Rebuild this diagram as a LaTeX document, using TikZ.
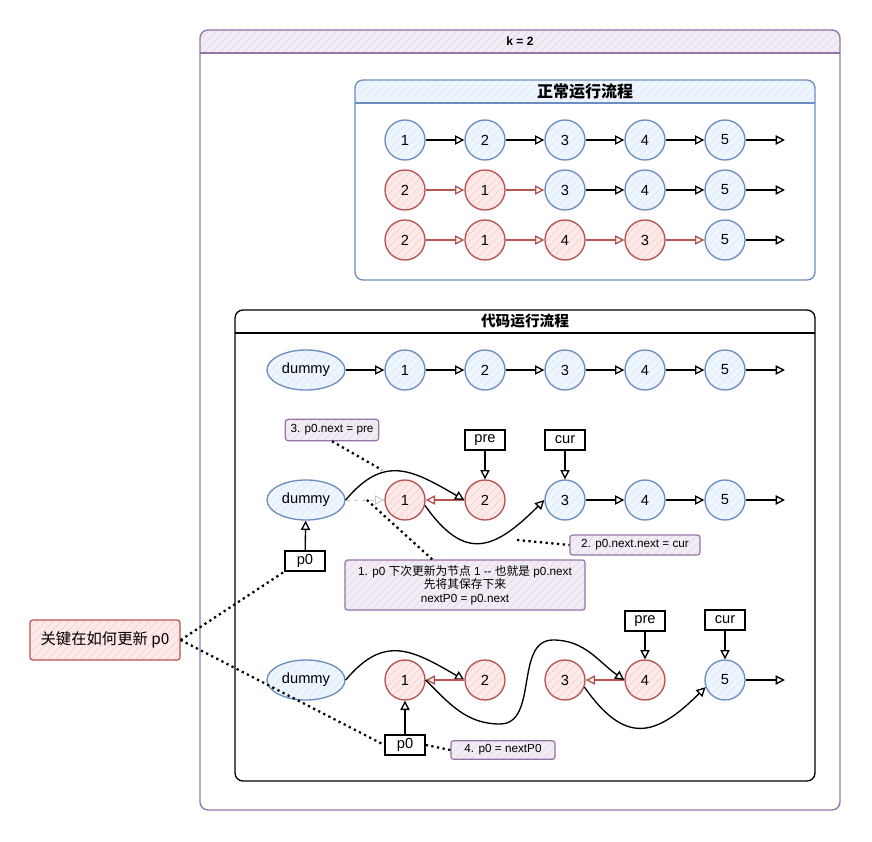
\documentclass[tikz,border=0pt]{standalone}
\usepackage{fontspec}
\setmainfont{Liberation Sans}
\newfontfamily\cjk{Noto Sans CJK SC}
\usetikzlibrary{arrows.meta,patterns.meta,shapes.geometric}

\definecolor{bline}{HTML}{6C8EBF}
\definecolor{bfill}{HTML}{DAE8FC}
\definecolor{rline}{HTML}{B85450}
\definecolor{rfill}{HTML}{F8CECC}
\definecolor{pline}{HTML}{9673A6}
\definecolor{pfill}{HTML}{E1D5E7}

\tikzset{
  hatch/.style={preaction={fill=#1!45!white}, pattern={Lines[angle=45,distance=4pt,line width=0.5pt]}, pattern color=#1},
  circ/.style={circle, line width=1pt, minimum size=30pt, inner sep=0pt, font=\fontsize{11}{12}\selectfont},
  bnode/.style={circ, draw=bline, hatch=bfill},
  rnode/.style={circ, draw=rline, hatch=rfill},
  dnode/.style={ellipse, draw=bline, line width=1pt, hatch=bfill, minimum width=58.5pt, minimum height=30pt, inner sep=0pt, font=\fontsize{11}{12}\selectfont},
  tag/.style={draw, line width=1pt, fill=white, minimum width=30pt, minimum height=15pt, inner sep=1pt, font=\fontsize{11}{12}\selectfont},
  note/.style={draw=pline, line width=0.9pt, rounded corners=2pt, hatch=pfill, inner sep=2pt, font=\fontsize{8.8}{10}\selectfont, align=center},
  arr/.style={-{Triangle[open,length=7pt,width=7pt]}, line width=1pt},
  rarr/.style={arr, draw=rline},
  dots/.style={line width=1.7pt, dash pattern=on 1.7pt off 2.6pt},
}

\begin{document}
\begin{tikzpicture}[x=0.75pt,y=0.75pt]
\useasboundingbox (0,0) rectangle (872,-842);

% outer frame: k = 2
\begin{scope}
\clip (200,-30) rectangle (840,-53);
\path[hatch=pfill, rounded corners=6pt] (200,-30) rectangle (840,-810);
\end{scope}
\draw[pline, line width=1pt, rounded corners=6pt] (200,-30) rectangle (840,-810);
\draw[pline, line width=1pt] (200,-53) -- (840,-53);
\node[font=\bfseries\fontsize{9}{10}\selectfont] (ktitle) at (520,-41.5) {k = 2};

% normal flow frame
\begin{scope}
\clip (355,-80) rectangle (815,-103);
\path[hatch=bfill, rounded corners=6pt] (355,-80) rectangle (815,-280);
\end{scope}
\draw[bline, line width=1pt, rounded corners=6pt] (355,-80) rectangle (815,-280);
\draw[bline, line width=1pt] (355,-103) -- (815,-103);
\node[font=\cjk\bfseries\fontsize{12}{13}\selectfont] (ntitle) at (585,-91.5) {正常运行流程};

% code flow frame
\draw[line width=1pt, rounded corners=6pt] (235,-310) rectangle (815,-781);
\draw[line width=1pt] (235,-333) -- (815,-333);
\node[font=\cjk\bfseries\fontsize{11}{12}\selectfont] (ctitle) at (525,-321.5) {代码运行流程};

% normal flow, row 1
\foreach \i/\x in {1/405,2/485,3/565,4/645,5/725}
  \node[bnode] (n1\i) at (\x,-140) {\i};
\coordinate (e1) at (785,-140);
\draw[arr] (n11) -- (n12);
\draw[arr] (n12) -- (n13);
\draw[arr] (n13) -- (n14);
\draw[arr] (n14) -- (n15);
\draw[arr] (n15) -- (e1);

% normal flow, row 2
\node[rnode] (n21) at (405,-190) {2};
\node[rnode] (n22) at (485,-190) {1};
\node[bnode] (n23) at (565,-190) {3};
\node[bnode] (n24) at (645,-190) {4};
\node[bnode] (n25) at (725,-190) {5};
\coordinate (e2) at (785,-190);
\draw[rarr] (n21) -- (n22);
\draw[rarr] (n22) -- (n23);
\draw[arr] (n23) -- (n24);
\draw[arr] (n24) -- (n25);
\draw[arr] (n25) -- (e2);

% normal flow, row 3
\node[rnode] (n31) at (405,-240) {2};
\node[rnode] (n32) at (485,-240) {1};
\node[rnode] (n33) at (565,-240) {4};
\node[rnode] (n34) at (645,-240) {3};
\node[bnode] (n35) at (725,-240) {5};
\coordinate (e3) at (785,-240);
\draw[rarr] (n31) -- (n32);
\draw[rarr] (n32) -- (n33);
\draw[rarr] (n33) -- (n34);
\draw[rarr] (n34) -- (n35);
\draw[arr] (n35) -- (e3);

% code flow, row A
\node[dnode] (a0) at (306,-370) {dummy};
\foreach \i/\x in {1/405,2/485,3/565,4/645,5/725}
  \node[bnode] (a\i) at (\x,-370) {\i};
\coordinate (ea) at (785,-370);
\draw[arr] (a0) -- (a1);
\draw[arr] (a1) -- (a2);
\draw[arr] (a2) -- (a3);
\draw[arr] (a3) -- (a4);
\draw[arr] (a4) -- (a5);
\draw[arr] (a5) -- (ea);

% code flow, row B
\node[dnode] (b0) at (306,-500) {dummy};
\node[rnode] (b1) at (405,-500) {1};
\node[rnode] (b2) at (485,-500) {2};
\node[bnode] (b3) at (565,-500) {3};
\node[bnode] (b4) at (645,-500) {4};
\node[bnode] (b5) at (725,-500) {5};
\coordinate (eb) at (785,-500);
\node[tag] (preb) at (485,-440) {pre};
\node[tag] (curb) at (565,-440) {cur};
\node[tag] (p0b) at (305,-561) {p0};
\draw[arr] (preb) -- (b2);
\draw[arr] (curb) -- (b3);
\draw[arr] (p0b) -- (b0);
\draw[arr, gray!45, line width=0.7pt, dashed] (b0) -- (b1);
\draw[rarr] (b2) -- (b1);
\draw[arr] (b0.east) to[out=50,in=150,looseness=1.3] (b2.west);
\draw[arr] (b1.-15) to[out=-55,in=-135,looseness=1.5] (b3.west);
\draw[arr] (b3) -- (b4);
\draw[arr] (b4) -- (b5);
\draw[arr] (b5) -- (eb);

% code flow, row C
\node[dnode] (c0) at (306,-680) {dummy};
\node[rnode] (c1) at (405,-680) {1};
\node[rnode] (c2) at (485,-680) {2};
\node[rnode] (c3) at (565,-680) {3};
\node[rnode] (c4) at (645,-680) {4};
\node[bnode] (c5) at (725,-680) {5};
\coordinate (ec) at (785,-680);
\node[tag] (prec) at (645,-621) {pre};
\node[tag] (curc) at (725,-620) {cur};
\node[tag] (p0c) at (405,-745) {p0};
\draw[arr] (prec) -- (c4);
\draw[arr] (curc) -- (c5);
\draw[arr] (p0c) -- (c1);
\draw[arr] (c0.east) to[out=50,in=150,looseness=1.3] (c2.west);
\draw[rarr] (c2) -- (c1);
\draw[rarr] (c4) -- (c3);
\draw[arr] (c1.east) to[out=-45,in=180] (500,-724) to[out=0,in=180] (553,-640) to[out=0,in=145] (c4.west);
\draw[arr] (c3.-20) to[out=-55,in=-135,looseness=1.5] (c5.-160);
\draw[arr] (c5) -- (ec);

% notes
\node[note, minimum width=70pt, minimum height=16pt] (notea) at (332,-430) {3. p0.next = pre};
\node[note, minimum width=97.5pt, minimum height=15pt] (noteb) at (635,-545) {2. p0.next.next = cur};
\node[note, minimum width=180pt, minimum height=37.5pt] (notec) at (465,-585)
  {1. p0 {\cjk 下次更新为节点} 1 {-}{-} {\cjk 也就是} p0.next\\{\cjk 先将其保存下来}\\nextP0 = p0.next};
\node[note, minimum width=78pt, minimum height=14pt] (noted) at (503,-750) {4. p0 = nextP0};
\node[draw=rline, line width=0.9pt, rounded corners=2pt, hatch=rfill, minimum width=112.5pt, minimum height=30pt,
  font=\cjk\fontsize{11.5}{12}\selectfont] (key) at (105,-640) {关键在如何更新 p0};

% dotted pointers
\coordinate (ta) at (382,-470);
\coordinate (tb) at (517,-540);
\coordinate (tc) at (367,-500);
\draw[dots] (notea.south) -- (ta);
\draw[dots] (tb) -- (noteb.west);
\draw[dots] (tc) -- (notec.142);
\draw[dots] (p0c.east) -- (noted.west);
\draw[dots] (key.east) -- (p0b.south west);
\draw[dots] (key.east) -- (p0c.west);
\end{tikzpicture}
\end{document}
